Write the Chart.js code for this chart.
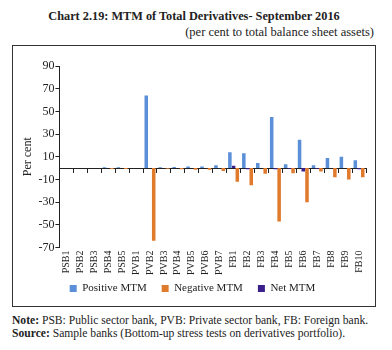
<!DOCTYPE html>
<html>
<head>
<meta charset="utf-8">
<script src="https://cdn.jsdelivr.net/npm/chart.js@4"></script>
<style>
  body { margin: 0; width: 392px; height: 350px; background: #fff; font-family: "Liberation Serif", serif; color: #222; position: relative; overflow: hidden; }
  #title { position: absolute; left: 0; width: 388px; top: 9px; text-align: center; font-weight: bold; font-size: 12.3px; }
  #sub { position: absolute; right: 18px; top: 25px; font-size: 12.5px; }
  #frame { position: absolute; left: 12px; top: 45px; width: 362px; height: 260px; border: 1px solid #333; }
  #frame canvas { position: absolute; left: 0; top: 0; }
  #note { position: absolute; left: 12px; top: 314px; font-size: 11.6px; line-height: 13px; white-space: nowrap; }
</style>
</head>
<body>
<div id="title">Chart 2.19: MTM of Total Derivatives- September 2016</div>
<div id="sub">(per cent to total balance sheet assets)</div>
<div id="frame"><canvas id="chart" width="362" height="264"></canvas></div>
<div id="note"><b>Note:</b> PSB: Public sector bank, PVB: Private sector bank, FB: Foreign bank.<br><b>Source:</b> Sample banks (Bottom-up stress tests on derivatives portfolio).</div>
<script>
  const banks = ['PSB1', 'PSB2', 'PSB3', 'PSB4', 'PSB5',
    'PVB1', 'PVB2', 'PVB3', 'PVB4', 'PVB5', 'PVB6', 'PVB7',
    'FB1', 'FB2', 'FB3', 'FB4', 'FB5', 'FB6', 'FB7', 'FB8', 'FB9', 'FB10']
  const positiveMtm = [0, 0, 0, 0.8, 0.8, 0, 64, 0.7, 1, 1.5, 1.5, 2.5, 14, 13, 4.5, 45, 3.5, 25, 2.5, 9, 10, 7]
  const negativeMtm = [0, 0, 0, -0.8, -0.8, 0, -64, -0.5, -1, -1.5, -1.5, -2.5, -12, -15, -5, -47, -4.5, -30, -3, -8, -10, -8]
  const netMtm = [0, 0, 0, 0, 0, 0, 0, 0.2, 0, 0, 0, 0, 2, -1, 0, -1, -0.5, -3, -0.5, 0, 0, -1]

  const serif = '"Liberation Serif", serif'
  Chart.defaults.font.family = serif
  Chart.defaults.color = '#222'

  const LABEL_OVERLAP = 10 // px the x labels may run into the legend's top padding

  // undo the shrink after layout so the labels are not clipped
  const labelRoom = {
    id: 'labelRoom',
    afterLayout(chart) {
      chart.scales.x.bottom += LABEL_OVERLAP
    }
  }

  const ctx = document.getElementById('chart').getContext('2d')
  new Chart(ctx, {
    type: 'bar',
    data: {
      labels: banks,
      datasets: [
        { label: 'Positive MTM', data: positiveMtm, backgroundColor: '#5b8fd8', order: 0 },
        { label: 'Negative MTM', data: negativeMtm, backgroundColor: '#e07a2c', order: 2 },
        { label: 'Net MTM', data: netMtm, backgroundColor: '#3b1f8c', order: 1 }
      ]
    },
    options: {
      responsive: false,
      animation: false,
      layout: { padding: { top: 20, right: 9, left: 6, bottom: 6 } },
      datasets: { bar: { categoryPercentage: 0.8, barPercentage: 0.95 } },
      plugins: {
        legend: {
          position: 'bottom',
          labels: {
            boxWidth: 7, boxHeight: 7, padding: 15,
            font: { size: 11 },
            sort: (a, b) => a.datasetIndex - b.datasetIndex
          }
        },
        tooltip: { enabled: false }
      },
      scales: {
        x: {
          grid: { display: false, drawTicks: false },
          border: { display: false },
          ticks: { minRotation: 90, maxRotation: 90, font: { size: 10 }, padding: 3, autoSkip: false },
          afterFit: (scale) => { scale.height -= LABEL_OVERLAP }
        },
        zero: {
          type: 'category',
          axis: 'x',
          labels: banks,
          position: { y: 0 },
          offset: true,
          grid: { offset: true, drawOnChartArea: false, tickLength: 4, color: '#222' },
          border: { color: '#222' },
          ticks: { display: false }
        },
        y: {
          min: -70, max: 90,
          ticks: { stepSize: 20, font: { size: 12 }, padding: 1 },
          grid: { drawOnChartArea: false, tickLength: 4, color: '#222' },
          border: { color: '#222' },
          title: { display: true, text: 'Per cent', font: { size: 12 }, padding: 2 }
        }
      }
    },
    plugins: [labelRoom]
  })
</script>
</body>
</html>
